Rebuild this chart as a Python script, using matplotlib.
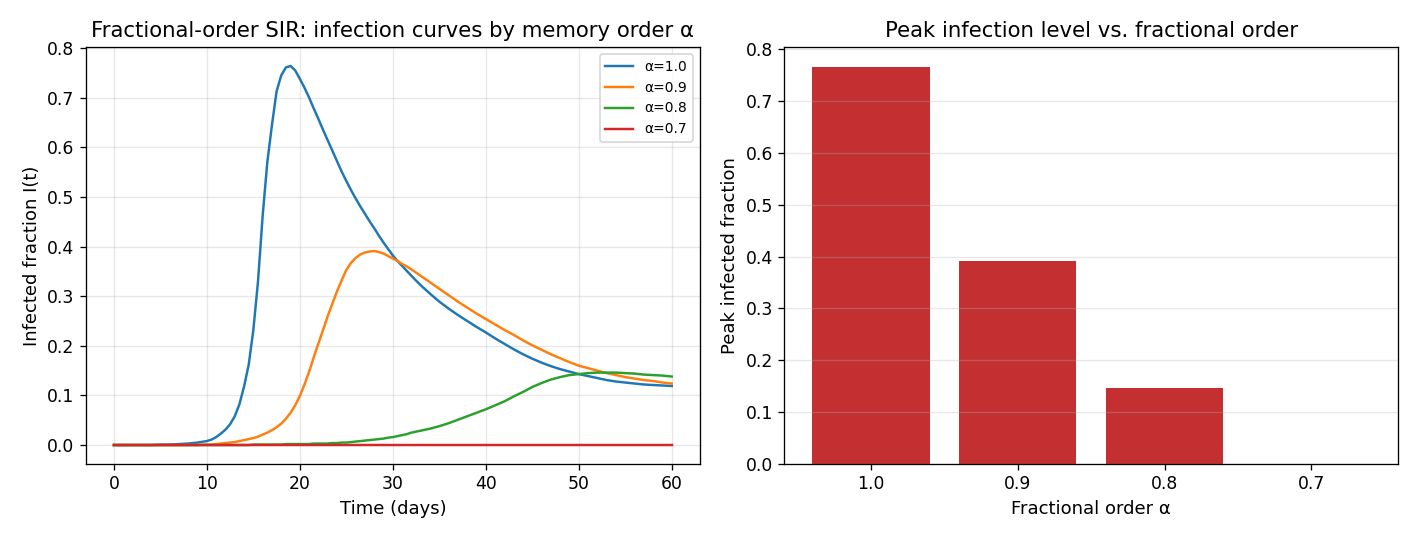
import matplotlib
matplotlib.use("Agg")
import matplotlib.pyplot as plt
import numpy as np

# sample times (days): daily, half-daily through the epidemic wave, then daily
t_days = ([float(d) for d in range(0, 10)]
          + [10 + 0.5 * k for k in range(45)]
          + [float(d) for d in range(33, 61)])

I_a10 = [0.000, 0.000, 0.000, 0.000, 0.000, 0.001, 0.001, 0.002, 0.003, 0.005,
         0.008, 0.011, 0.016, 0.023, 0.031, 0.042, 0.058, 0.082, 0.118, 0.162,
         0.232, 0.330, 0.462, 0.570, 0.645, 0.713, 0.745, 0.761, 0.764, 0.755,
         0.738, 0.720, 0.700, 0.678, 0.657, 0.635, 0.614, 0.593, 0.572, 0.551,
         0.532, 0.514, 0.497, 0.481, 0.466, 0.451, 0.437, 0.422, 0.408, 0.395,
         0.382, 0.371, 0.361, 0.351, 0.341,
         0.322, 0.305, 0.289, 0.275, 0.262, 0.250, 0.238, 0.227, 0.215, 0.204,
         0.193, 0.183, 0.174, 0.166, 0.159, 0.153, 0.148, 0.143, 0.139, 0.135,
         0.131, 0.128, 0.126, 0.124, 0.122, 0.121, 0.120, 0.119]

I_a09 = [0.000, 0.000, 0.000, 0.000, 0.000, 0.000, 0.000, 0.000, 0.000, 0.000,
         0.001, 0.001, 0.002, 0.003, 0.004, 0.005, 0.006, 0.008, 0.010, 0.012,
         0.014, 0.017, 0.021, 0.025, 0.030, 0.036, 0.043, 0.053, 0.065, 0.080,
         0.099, 0.122, 0.148, 0.177, 0.205, 0.232, 0.260, 0.285, 0.310, 0.332,
         0.353, 0.367, 0.377, 0.384, 0.388, 0.390, 0.391, 0.389, 0.386, 0.381,
         0.376, 0.371, 0.365, 0.360, 0.354,
         0.341, 0.328, 0.315, 0.302, 0.289, 0.277, 0.265, 0.254, 0.243, 0.232,
         0.222, 0.211, 0.201, 0.192, 0.183, 0.175, 0.167, 0.160, 0.155, 0.150,
         0.145, 0.141, 0.137, 0.134, 0.131, 0.129, 0.126, 0.124]

I_a08 = [0.000, 0.000, 0.000, 0.000, 0.000, 0.000, 0.000, 0.000, 0.000, 0.000,
         0.000, 0.000, 0.000, 0.000, 0.000, 0.000, 0.000, 0.000, 0.000, 0.000,
         0.001, 0.001, 0.001, 0.001, 0.001, 0.001, 0.001, 0.002, 0.002, 0.002,
         0.002, 0.002, 0.002, 0.003, 0.003, 0.003, 0.003, 0.004, 0.004, 0.005,
         0.005, 0.006, 0.007, 0.008, 0.009, 0.010, 0.011, 0.012, 0.013, 0.015,
         0.016, 0.018, 0.020, 0.022, 0.025,
         0.029, 0.033, 0.038, 0.044, 0.051, 0.058, 0.065, 0.072, 0.080, 0.088,
         0.098, 0.107, 0.117, 0.125, 0.132, 0.137, 0.141, 0.143, 0.145, 0.146,
         0.146, 0.146, 0.145, 0.144, 0.142, 0.141, 0.140, 0.138]

I_a07 = [0.000] * len(t_days)

alpha_labels = ["1.0", "0.9", "0.8", "0.7"]
peak_values = [0.766, 0.392, 0.146, 0.000]

series = [I_a10, I_a09, I_a08, I_a07]
colors = ["#1f77b4", "#ff7f0e", "#2ca02c", "#d62728"]

DPI = 118
fig, (ax1, ax2) = plt.subplots(1, 2, figsize=(1419 / DPI, 540 / DPI), dpi=DPI)

for lab, ys, c in zip(alpha_labels, series, colors):
    ax1.plot(t_days, ys, color=c, lw=1.5, label=f"α={lab}")
ax1.set_title("Fractional-order SIR: infection curves by memory order α", fontsize=13)
ax1.set_xlabel("Time (days)", fontsize=11)
ax1.set_ylabel("Infected fraction I(t)", fontsize=11)
ax1.grid(True, alpha=0.3)
ax1.legend(fontsize=8.5, loc="upper right")
ax1.tick_params(labelsize=10.5)

x = np.arange(len(alpha_labels))
ax2.bar(x, peak_values, width=0.8, color="#c43032")
ax2.set_xticks(x)
ax2.set_xticklabels(alpha_labels)
ax2.set_title("Peak infection level vs. fractional order", fontsize=13)
ax2.set_xlabel("Fractional order α", fontsize=11)
ax2.set_ylabel("Peak infected fraction", fontsize=11)
ax2.grid(True, axis="y", alpha=0.3)
ax2.tick_params(labelsize=10.5)

fig.subplots_adjust(left=86 / 1419, right=1398 / 1419, top=1 - 47 / 540,
                    bottom=1 - 464 / 540, wspace=0.138)
fig.savefig("out.png", dpi=DPI)
